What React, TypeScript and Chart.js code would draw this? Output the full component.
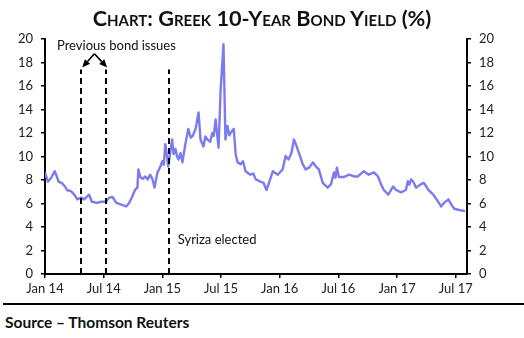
import React, { useEffect, useRef } from "react";
import { Chart, registerables } from "chart.js";

Chart.register(...registerables);

// Months since 1 Jan 2014
const months = [
  0, 0.3, 0.6, 1.0, 1.4, 1.7, 2.05, 2.25, 2.65, 3.0, 3.3, 3.7, 4.0, 4.5, 4.8, 5.3, 5.75, 6.25, 6.55, 6.9,
  7.3, 7.8, 8.3, 8.6, 8.9, 9.2, 9.45, 9.55, 9.75, 10.0, 10.25, 10.5, 10.75, 11.0, 11.2, 11.5, 11.8, 12.0, 12.15, 12.3, 12.45, 12.6,
  12.8, 13.0, 13.15, 13.35, 13.5, 13.65, 13.85, 14.05, 14.35, 14.65, 14.9, 15.1, 15.4, 15.7, 15.9, 16.2, 16.4, 16.6, 16.9, 17.1, 17.25, 17.45, 17.6, 17.75,
  17.95, 18.25, 18.45, 18.65, 18.85, 19.0, 19.3, 19.5, 19.7, 20.0, 20.25, 20.5, 21.0, 21.3, 21.55, 22.05, 22.35, 22.65, 22.9,
  23.3, 23.8, 24.3, 24.6, 24.9, 25.2, 25.45, 25.65, 25.95, 26.35, 26.65, 27.0, 27.4, 27.7, 28.0, 28.4, 28.9,
  29.25, 29.55, 29.7, 29.85, 30.05, 30.55, 31.1, 31.6, 32.0, 32.6, 33.1, 33.65, 34.05, 34.35, 34.65, 35.1, 35.6,
  35.9, 36.4, 36.9, 37.1, 37.25, 37.45, 37.65, 37.95, 38.45, 38.75, 39.2, 39.7, 40.2, 40.5, 40.8, 41.25, 41.55, 41.85,
  42.35, 42.95,
];

// Greek 10-year bond yield (%)
const yields = [
  8.65, 7.85, 8.15, 8.75, 7.85, 7.75, 7.45, 7.15, 7.05, 6.75, 6.35, 6.5, 6.35, 6.75, 6.15, 6.05, 6.15, 6.15, 6.5, 6.55,
  6.05, 5.9, 5.75, 6.05, 6.55, 7.15, 7.35, 8.9, 8.25, 8.1, 8.3, 8.05, 8.45, 8.05, 7.35, 8.65, 9.15, 9.6, 9.3, 11.05, 10.2, 9.15,
  10.3, 11.45, 10.2, 10.65, 10.0, 9.75, 10.3, 9.5, 11.05, 12.35, 11.6, 11.75, 12.35, 13.75, 11.45, 10.85, 11.7, 11.45, 11.25, 12.0, 11.75, 13.15, 11.9, 10.75,
  15.55, 19.55, 11.45, 12.6, 11.8, 12.05, 12.35, 10.15, 9.5, 9.35, 9.6, 8.75, 8.45, 8.55, 8.05, 7.85, 7.75, 7.15, 7.75,
  8.75, 8.45, 8.9, 10.05, 9.75, 10.3, 11.45, 11.05, 10.35, 9.35, 8.9, 9.05, 9.5, 9.15, 8.9, 7.75, 7.35,
  7.65, 8.65, 8.2, 9.05, 8.25, 8.25, 8.45, 8.3, 8.3, 8.75, 8.45, 8.65, 8.3, 7.65, 7.15, 6.75, 7.45,
  7.15, 6.95, 7.15, 7.9, 7.6, 8.05, 7.85, 7.35, 7.65, 7.75, 7.15, 6.75, 6.15, 5.75, 6.05, 6.35, 5.9, 5.55,
  5.45, 5.35,
];

const tickMonths = [0, 6, 12, 18, 24, 30, 36, 42];
const tickLabels = ["Jan 14", "Jul 14", "Jan 15", "Jul 15", "Jan 16", "Jul 16", "Jan 17", "Jul 17"];

const bondIssueMonths = [3.65, 6.25];
const syrizaMonth = 12.65;
const markerTop = 17.4;
const bondIssueLabel = "Previous bond issues";
const syrizaLabel = "Syriza elected";

const FONT = "Lato, 'Open Sans', sans-serif";

const annotatePlugin = {
  id: "annotate",
  afterDatasetsDraw(chart: any) {
    const { ctx, scales } = chart;
    const x = scales.x;
    const y = scales.y;
    ctx.save();
    const bottom = y.getPixelForValue(0);
    const top = y.getPixelForValue(markerTop);
    ctx.strokeStyle = "#000";
    ctx.lineWidth = 2;
    ctx.setLineDash([6, 4]);
    [...bondIssueMonths, syrizaMonth].forEach((m) => {
      const px = Math.round(x.getPixelForValue(m));
      ctx.beginPath();
      ctx.moveTo(px, bottom);
      ctx.lineTo(px, top);
      ctx.stroke();
    });
    ctx.setLineDash([]);

    const x1 = x.getPixelForValue(bondIssueMonths[0]);
    const x2 = x.getPixelForValue(bondIssueMonths[1]);
    const apexX = (x1 + x2) / 2 + 1;
    const apexY = y.getPixelForValue(18.75);
    const drawArrow = (tx: number, ty: number) => {
      const ang = Math.atan2(ty - apexY, tx - apexX);
      const len = 8;
      const bx = tx - Math.cos(ang) * len;
      const by = ty - Math.sin(ang) * len;
      ctx.beginPath();
      ctx.moveTo(apexX, apexY);
      ctx.lineTo(bx, by);
      ctx.lineWidth = 1.6;
      ctx.stroke();
      ctx.beginPath();
      ctx.moveTo(tx, ty);
      ctx.lineTo(bx + Math.cos(ang + Math.PI / 2) * 3.5, by + Math.sin(ang + Math.PI / 2) * 3.5);
      ctx.lineTo(bx - Math.cos(ang + Math.PI / 2) * 3.5, by - Math.sin(ang + Math.PI / 2) * 3.5);
      ctx.closePath();
      ctx.fillStyle = "#000";
      ctx.fill();
    };
    drawArrow(x1 + 1.5, top - 2);
    drawArrow(x2 + 1, top - 2);

    ctx.fillStyle = "#111";
    ctx.font = `13px ${FONT}`;
    ctx.textBaseline = "middle";
    ctx.textAlign = "center";
    ctx.fillText(bondIssueLabel, (x1 + x2) / 2 + 23, y.getPixelForValue(19.4));
    ctx.textAlign = "left";
    const sx = x.getPixelForValue(syrizaMonth);
    ctx.fillText(syrizaLabel, sx + 9, y.getPixelForValue(2.9));
    ctx.restore();
  },
};

export default function App() {
  const ref = useRef<HTMLCanvasElement | null>(null);

  useEffect(() => {
    if (!ref.current) return;
    const data = months.map((m, i) => ({ x: m, y: yields[i] }));
    const axisCommon = {
      border: { display: true, color: "#000", width: 2 },
      grid: { drawOnChartArea: false, drawTicks: true, tickLength: 4, color: "#000", lineWidth: 1.5 },
    };
    const chart = new Chart(ref.current, {
      type: "line",
      data: {
        datasets: [
          {
            data,
            borderColor: "#7b7bef",
            borderWidth: 2.4,
            pointRadius: 0,
            tension: 0,
            borderJoinStyle: "round",
            fill: false,
          },
        ],
      },
      options: {
        animation: false,
        responsive: false,
        layout: { padding: { top: 39, left: 0, right: 0, bottom: 0 } },
        plugins: { legend: { display: false }, tooltip: { enabled: false }, title: { display: false } },
        scales: {
          x: {
            type: "linear",
            min: 0,
            max: 43.15,
            ...axisCommon,
            afterBuildTicks: (scale: any) => {
              scale.ticks = tickMonths.map((v) => ({ value: v }));
            },
            afterFit: (scale: any) => {
              scale.height = 26;
            },
            ticks: {
              autoSkip: false,
              maxRotation: 0,
              padding: 3,
              color: "#222",
              font: { family: FONT, size: 13 },
              callback: (v: any) => {
                const i = tickMonths.indexOf(Number(v));
                return i >= 0 ? tickLabels[i] : "";
              },
            },
          },
          y: {
            type: "linear",
            position: "left",
            min: 0,
            max: 20,
            ...axisCommon,
            afterFit: (scale: any) => {
              scale.width = 45;
            },
            ticks: { stepSize: 2, padding: 8, color: "#222", font: { family: FONT, size: 13 } },
          },
          y2: {
            type: "linear",
            position: "right",
            min: 0,
            max: 20,
            ...axisCommon,
            afterFit: (scale: any) => {
              scale.width = 57;
            },
            ticks: { stepSize: 2, padding: 8, color: "#222", font: { family: FONT, size: 13 } },
          },
        },
      } as any,
      plugins: [annotatePlugin],
    });
    return () => chart.destroy();
  }, []);

  return (
    <div style={{ position: "absolute", left: 0, top: 0, width: 524, height: 338, background: "#fff", overflow: "hidden" }}>
      <canvas ref={ref} width={524} height={300} style={{ position: "absolute", left: 0, top: 0, width: 524, height: 300 }} />
      <div
        style={{
          position: "absolute",
          left: 0,
          top: 6,
          width: 524,
          textAlign: "center",
          fontFamily: FONT,
          fontWeight: 700,
          fontSize: 21.7,
          lineHeight: "25px",
          fontVariant: "small-caps",
          color: "#111",
        }}
      >
        Chart: Greek 10-Year Bond Yield (%)
      </div>
      <div style={{ position: "absolute", left: 3, top: 303, width: 521, height: 2, background: "#000" }} />
      <div
        style={{
          position: "absolute",
          left: 5,
          top: 313,
          fontFamily: FONT,
          fontWeight: 700,
          fontSize: 15.5,
          lineHeight: "19px",
          color: "#111",
        }}
      >
        Source – Thomson Reuters
      </div>
    </div>
  );
}
